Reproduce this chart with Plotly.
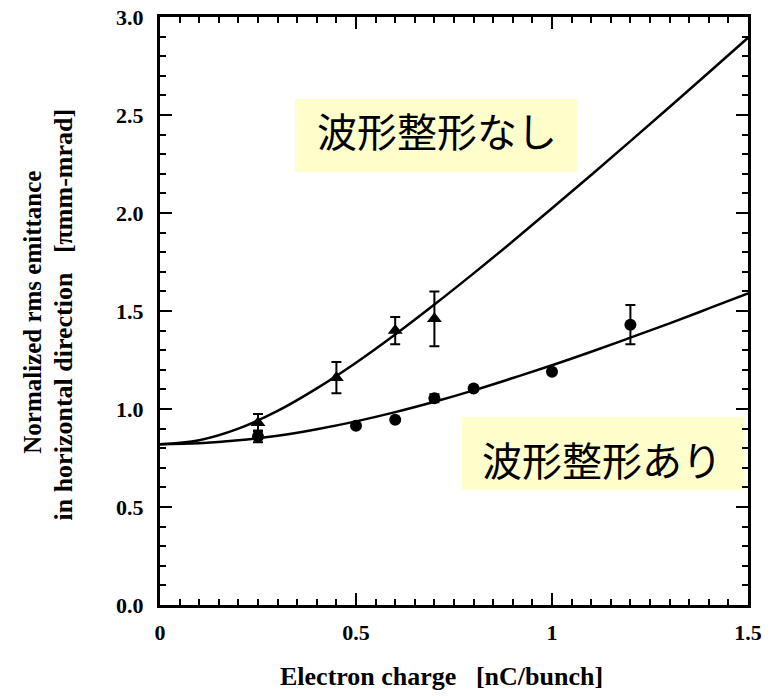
import plotly.graph_objects as go

# Data: measured points (x in nC/bunch, emittance in pi mm-mrad)
tri_x = [0.25, 0.45, 0.60, 0.70]
tri_y = [0.93, 1.16, 1.40, 1.46]
tri_err = [0.045, 0.08, 0.07, 0.14]

circ_x = [0.25, 0.50, 0.60, 0.70, 0.80, 1.00, 1.20]
circ_y = [0.86, 0.915, 0.945, 1.055, 1.105, 1.19, 1.43]
circ_err = [0.03, 0.0, 0.0, 0.02, 0.0, 0.0, 0.10]

# Fitted curves
curve_x = [0.0, 0.1, 0.2, 0.3, 0.4, 0.5, 0.6, 0.7, 0.8, 0.9, 1.0, 1.1, 1.2, 1.3, 1.4, 1.5]
upper_y = [0.82, 0.841, 0.900, 0.990, 1.105, 1.236, 1.380, 1.533, 1.692, 1.856,
           2.024, 2.194, 2.367, 2.541, 2.717, 2.894]
lower_y = [0.82, 0.825, 0.840, 0.864, 0.897, 0.937, 0.984, 1.037, 1.095, 1.158,
           1.223, 1.292, 1.364, 1.437, 1.513, 1.590]

label_none = "波形整形なし"
label_with = "波形整形あり"
x_title = "Electron charge &nbsp; [nC/bunch]"
y_title_1 = "Normalized rms emittance"
y_title_2 = "in horizontal direction &nbsp; [πmm-mrad]"

serif = "Liberation Serif, Times New Roman, serif"
cjk = "Noto Sans CJK JP"

fig = go.Figure()

fig.add_trace(go.Scatter(x=curve_x, y=upper_y, mode="lines", line=dict(color="black", width=2.5, shape="spline"),
                         showlegend=False, hoverinfo="skip"))
fig.add_trace(go.Scatter(x=curve_x, y=lower_y, mode="lines", line=dict(color="black", width=2.5, shape="spline"),
                         showlegend=False, hoverinfo="skip"))
fig.add_trace(go.Scatter(x=tri_x, y=tri_y, mode="markers",
                         marker=dict(symbol="triangle-up", size=13, color="black"),
                         error_y=dict(type="data", array=tri_err, color="black", thickness=2, width=5),
                         showlegend=False))
fig.add_trace(go.Scatter(x=circ_x, y=circ_y, mode="markers",
                         marker=dict(symbol="circle", size=12, color="black"),
                         error_y=dict(type="data", array=circ_err, color="black", thickness=2, width=5),
                         showlegend=False))
# invisible trace on a duplicate subplot that carries the top/right ticks
fig.add_trace(go.Scatter(x=[0, 1.5], y=[0, 3.0], xaxis="x2", yaxis="y2", mode="markers",
                         marker=dict(opacity=0), showlegend=False, hoverinfo="skip"))

box_fill = "#FFFFCC"
fig.add_shape(type="rect", x0=0.344, x1=1.064, y0=2.209, y1=2.582, fillcolor=box_fill,
              line=dict(width=0), layer="below")
fig.add_shape(type="rect", x0=0.770, x1=1.492, y0=0.587, y1=0.959, fillcolor=box_fill,
              line=dict(width=0), layer="below")

fig.add_annotation(x=0.707, y=2.425, text=label_none, showarrow=False,
                   font=dict(family=cjk, size=40, color="black"))
fig.add_annotation(x=1.127, y=0.745, text=label_with, showarrow=False,
                   font=dict(family=cjk, size=40, color="black"))

fig.add_annotation(xref="paper", yref="paper", x=(33 - 160) / 588, y=0.497, text=y_title_1, textangle=-90,
                   showarrow=False, xanchor="center", yanchor="middle",
                   font=dict(family=serif, size=25, color="black", weight="bold"))
fig.add_annotation(xref="paper", yref="paper", x=(64 - 160) / 588, y=0.494, text=y_title_2, textangle=-90,
                   showarrow=False, xanchor="center", yanchor="middle",
                   font=dict(family=serif, size=26, color="black", weight="bold"))
fig.add_annotation(xref="paper", yref="paper", x=(441 - 160) / 588, y=(605 - 676) / 588, text=x_title,
                   showarrow=False, xanchor="center", yanchor="middle",
                   font=dict(family=serif, size=26, color="black", weight="bold"))

tick_common = dict(ticks="inside", ticklen=12, tickwidth=2, tickcolor="black",
                   showgrid=False, zeroline=False)
axis_common = dict(showline=True, linecolor="black", linewidth=3, mirror=True,
                   tickfont=dict(family=serif, size=22, color="black", weight="bold"), **tick_common)
mirror_common = dict(showline=False, showticklabels=True, automargin=False,
                     tickfont=dict(size=1, color="rgba(0,0,0,0)"), **tick_common)

x_minor = dict(dtick=0.05, ticks="inside", ticklen=6, tickwidth=2, tickcolor="black", showgrid=False)
y_minor = dict(dtick=0.1, ticks="inside", ticklen=6, tickwidth=2, tickcolor="black", showgrid=False)

fig.update_layout(
    xaxis=dict(range=[0, 1.5], tickmode="linear", tick0=0, dtick=0.5, minor=x_minor,
               ticklabelstandoff=6, domain=[0, 1], anchor="y", **axis_common),
    yaxis=dict(range=[0, 3.0], tickmode="linear", tick0=0, dtick=0.5, tickformat=".1f", minor=y_minor,
               ticklabelstandoff=9, domain=[0, 1], anchor="x", **axis_common),
    xaxis2=dict(range=[0, 1.5], side="top", anchor="y2", domain=[0, 1], tickmode="linear", tick0=0, dtick=0.5,
                minor=x_minor, **mirror_common),
    yaxis2=dict(range=[0, 3.0], side="right", anchor="x2", domain=[0, 1], tickmode="linear", tick0=0, dtick=0.5,
                minor=y_minor, **mirror_common),
    width=776, height=696, margin=dict(l=160, r=28, t=17, b=91, autoexpand=False),
    plot_bgcolor="rgba(0,0,0,0)", paper_bgcolor="white")

fig.write_html("out.html")
